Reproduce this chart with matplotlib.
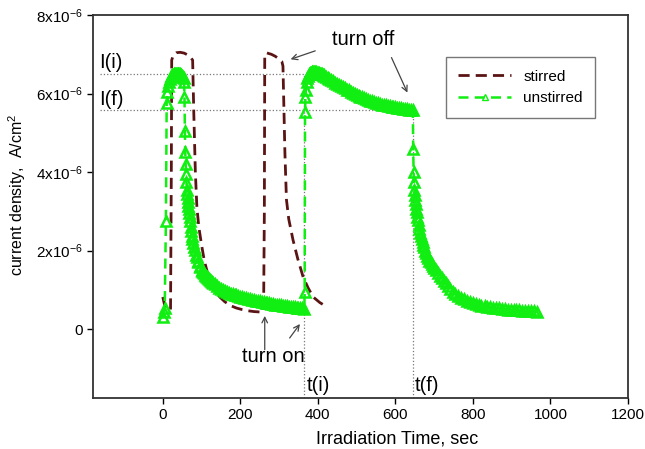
import matplotlib
matplotlib.use("Agg")
import matplotlib.pyplot as plt
import numpy as np

plt.rcParams['font.family'] = ['Liberation Sans', 'DejaVu Sans']
plt.rcParams['mathtext.fontset'] = 'custom'
plt.rcParams['mathtext.rm'] = 'Liberation Sans'
plt.rcParams['mathtext.it'] = 'Liberation Sans'

# stirred: time (s), current density (1e-6 A/cm2)
stirred_t = [0, 5, 10, 20, 22, 23, 27, 35, 45, 55, 65, 72, 77, 80, 84, 88, 93, 100, 107, 115,
             125, 135, 147, 160, 175, 190, 205, 220, 235, 250, 260, 262, 263, 267, 273, 280,
             290, 300, 307, 310, 315, 319, 325, 336, 348, 362, 375, 388, 405, 423]
stirred_j = [0.82, 0.6, 0.5, 0.5, 4.0, 6.85, 6.98, 7.04, 7.05, 7.03, 6.98, 6.92, 6.85, 5.5, 4.0,
             3.1, 2.6, 2.15, 1.75, 1.45, 1.2, 1.0, 0.82, 0.7, 0.6, 0.54, 0.5, 0.47, 0.45, 0.44,
             0.44, 3.0, 6.95, 7.04, 7.02, 7.0, 6.95, 6.88, 6.82, 6.7, 4.5, 3.3, 2.8, 2.27, 1.8,
             1.33, 1.05, 0.82, 0.68, 0.57]

# unstirred
unstirred_t = [0, 2, 5, 8, 10, 12, 14, 16, 18, 20, 22, 24, 26, 28, 30, 32, 34, 36, 38, 40, 42,
               44, 46, 48, 50, 52, 54, 55, 56, 57, 58, 59,
               60, 61, 62, 63, 64, 65, 66, 67, 68, 69, 70, 72, 73, 75, 76, 78, 80, 82, 85, 87,
               90, 92, 95, 97, 100, 102, 105, 107, 110, 112, 115, 117, 120, 122, 125, 127,
               130, 135, 140, 145, 150, 155, 160, 165, 170, 175, 180, 185, 190, 195, 200, 205,
               210, 215, 220, 225, 230, 235, 240, 245, 250, 255, 260, 265, 270, 275, 280, 285,
               290, 295, 300, 305, 310, 315, 320, 325, 330, 335, 340, 345, 350, 355, 360, 365,
               366, 367, 368, 369, 371, 373, 375, 378, 380, 382, 384, 386, 388, 390, 392, 395,
               397, 400, 402, 405, 407, 410, 412, 415, 417, 420,
               425, 430, 435, 440, 445, 450, 455, 460, 465, 470, 475, 480, 485, 490, 495, 500,
               505, 510, 515, 520, 525, 530, 535, 540, 545, 550, 555, 560, 565, 570, 575, 580,
               585, 590, 595, 600, 605, 610, 615, 620, 625, 630, 635, 640, 645,
               646, 647, 648, 649, 650, 651, 652, 654, 655, 657, 658, 660, 662, 664, 666, 668,
               670, 672, 674, 677, 679, 682, 685, 688, 691, 694, 697, 700,
               705, 710, 715, 720, 725, 730, 736, 742, 748, 755, 762, 770, 777, 785, 792, 800,
               807, 815, 822, 830, 837, 845, 852, 860, 867, 875, 882, 890, 897, 905, 912, 920,
               927, 935, 942, 950, 958, 966]
unstirred_j = [0.31, 0.45, 0.55, 2.75, 5.75, 6.05, 6.2, 6.3, 6.36, 6.42, 6.45, 6.47, 6.48,
               6.49, 6.5, 6.5, 6.5, 6.5, 6.5, 6.5, 6.49, 6.49, 6.48, 6.47, 6.45, 6.43, 6.4,
               6.3, 5.9, 5.05, 4.5, 4.2,
               3.95, 3.75, 3.55, 3.45, 3.35, 3.25, 3.15, 3.05, 2.95, 2.85, 2.75, 2.6, 2.5,
               2.38, 2.3, 2.2, 2.1, 2.02, 1.9, 1.83, 1.75, 1.7, 1.62, 1.58, 1.52, 1.49, 1.45,
               1.42, 1.38, 1.36, 1.33, 1.31, 1.28, 1.26, 1.23, 1.21,
               1.18, 1.14, 1.1, 1.06, 1.03, 1.0, 0.97, 0.95, 0.93, 0.91, 0.89, 0.875, 0.86,
               0.845, 0.83, 0.815, 0.8, 0.785, 0.77, 0.76, 0.75, 0.74, 0.73, 0.72, 0.71, 0.70,
               0.69, 0.68, 0.67, 0.66, 0.65, 0.64, 0.63, 0.625, 0.62, 0.61, 0.6, 0.59, 0.58,
               0.575, 0.57, 0.565, 0.56, 0.55, 0.54, 0.535, 0.53, 0.52,
               0.95, 5.54, 5.9, 6.1, 6.3, 6.4, 6.45, 6.5, 6.52, 6.53, 6.54, 6.55, 6.55, 6.55,
               6.55, 6.54, 6.53, 6.53, 6.52, 6.51, 6.5, 6.49, 6.48, 6.46, 6.45, 6.43,
               6.4, 6.37, 6.34, 6.31, 6.28, 6.25, 6.22, 6.19, 6.16, 6.13, 6.1, 6.08,
               6.05, 6.02, 6.0, 5.97, 5.95, 5.92, 5.9, 5.88, 5.86, 5.84, 5.82, 5.8, 5.78, 5.76,
               5.75, 5.73, 5.72, 5.71, 5.7, 5.69, 5.68, 5.67, 5.66, 5.65, 5.64, 5.63, 5.62, 5.61,
               5.6, 5.6, 5.59, 5.58, 5.58,
               4.6, 4.0, 3.75, 3.55, 3.42, 3.3, 3.2, 3.05, 2.98, 2.85, 2.78, 2.65, 2.55, 2.45,
               2.38, 2.3, 2.22, 2.15, 2.09, 2.0, 1.95, 1.87, 1.81, 1.75, 1.7, 1.65, 1.61, 1.57,
               1.5, 1.43, 1.36, 1.3, 1.23, 1.17, 1.1, 1.02, 0.96, 0.9, 0.85, 0.8,
               0.76, 0.72, 0.69, 0.66, 0.635, 0.61, 0.595, 0.58, 0.57, 0.56, 0.55, 0.54, 0.53,
               0.52, 0.51, 0.5, 0.495, 0.49, 0.485, 0.48, 0.475, 0.47, 0.465, 0.46, 0.455, 0.45]

I_i = 6.5
I_f = 5.58
t_i = 365
t_f = 645

x_ticks = [0, 200, 400, 600, 800, 1000, 1200]
y_ticks = [0, 2, 4, 6, 8]
y_ticklabels = ['0', r'2x10$^{-6}$', r'4x10$^{-6}$', r'6x10$^{-6}$', r'8x10$^{-6}$']

fig = plt.figure(figsize=(6.45, 4.49), dpi=100)
ax = fig.add_axes([0.1442, 0.1136, 0.8294, 0.853])

sc = 1e-6
green = '#11ee11'
ax.plot(np.array(stirred_t), np.array(stirred_j) * sc, color='#5a1414', lw=2,
        ls=(0, (4, 2.2)), label='stirred', zorder=3)
ax.plot(np.array(unstirred_t), np.array(unstirred_j) * sc, color=green, lw=1.8,
        ls=(0, (4, 2.5)), marker='^', ms=6.5, mfc='none', mec=green, mew=1.8,
        label='unstirred', zorder=4)

# guide lines
dot = dict(color='#777777', lw=0.9, ls=':', zorder=1)
ax.plot([-163, t_i], [I_i * sc, I_i * sc], **dot)
ax.plot([-163, t_f], [I_f * sc, I_f * sc], **dot)
ax.plot([t_i, t_i], [-1.75 * sc, I_i * sc], **dot)
ax.plot([t_f, t_f], [-1.75 * sc, I_f * sc], **dot)

fs = 14.5
ax.text(-163, 6.8 * sc, 'I(i)', fontsize=fs, va='center', ha='left')
ax.text(-163, 5.85 * sc, 'I(f)', fontsize=fs, va='center', ha='left')
ax.text(371, -1.42 * sc, 't(i)', fontsize=fs, va='center', ha='left')
ax.text(649, -1.42 * sc, 't(f)', fontsize=fs, va='center', ha='left')
ax.text(517, 7.38 * sc, 'turn off', fontsize=fs, va='center', ha='center')
ax.text(284, -0.7 * sc, 'turn on', fontsize=fs, va='center', ha='center')

arr = dict(arrowstyle='->', color='#444444', lw=0.9)
ax.annotate('', xy=(323, 6.85 * sc), xytext=(400, 7.11 * sc), arrowprops=arr)
ax.annotate('', xy=(634, 5.96 * sc), xytext=(587, 6.98 * sc), arrowprops=arr)
ax.annotate('', xy=(263, 0.41 * sc), xytext=(263, -0.59 * sc), arrowprops=arr)
ax.annotate('', xy=(358, 0.19 * sc), xytext=(323, -0.28 * sc), arrowprops=arr)

ax.set_xlim(-180, 1200)
ax.set_ylim(-1.75 * sc, 8 * sc)
ax.set_xticks(x_ticks)
ax.set_yticks([v * sc for v in y_ticks])
ax.set_yticklabels(y_ticklabels)
ax.tick_params(direction='out', length=4, width=1, labelsize=11, top=False, right=False)
for s in ax.spines.values():
    s.set_linewidth(1.3)
    s.set_color('#333333')

ax.set_xlabel('Irradiation Time, sec', fontsize=13)
ax.xaxis.set_label_coords(0.568, -0.085)
ax.set_ylabel(r'current density,  A/cm$^2$', fontsize=11.5)
ax.yaxis.set_label_coords(-0.122, 0.53)

leg = ax.legend(loc='upper right', bbox_to_anchor=(0.953, 0.909), fontsize=11,
                fancybox=False, edgecolor='#555555', handlelength=3.5, borderpad=0.8,
                markerscale=0.6)
leg.get_frame().set_linewidth(1.0)
for h in leg.get_lines():
    h.set_markeredgewidth(1.0)

fig.savefig('out.png', dpi=100)
